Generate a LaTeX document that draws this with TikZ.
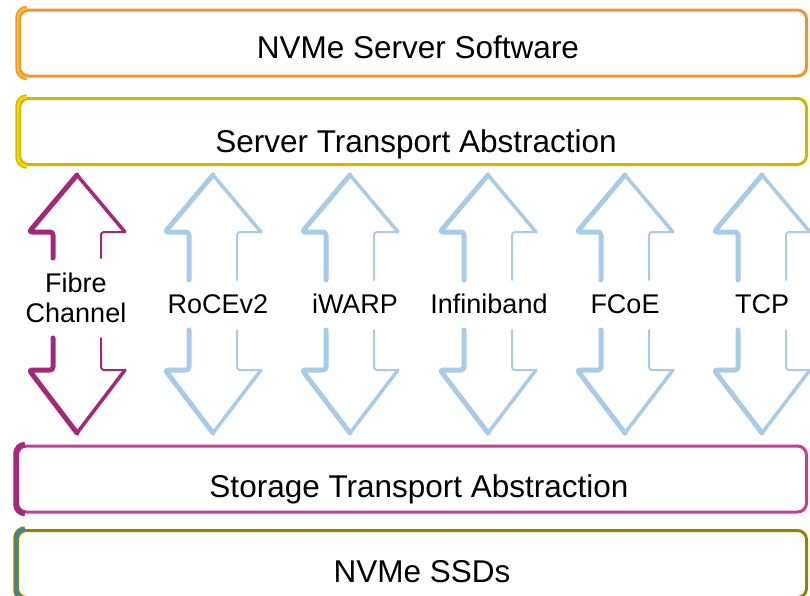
\documentclass[tikz,border=0pt]{standalone}
\usepackage{fontspec}
\setmainfont{Liberation Sans}
\usepackage{tikz}

\definecolor{swcol}{HTML}{F0952E}
\definecolor{swlight}{HTML}{F9B935}
\definecolor{stacol}{HTML}{D2B600}
\definecolor{stalight}{HTML}{F4D800}
\definecolor{storcol}{HTML}{C23E99}
\definecolor{stordark}{HTML}{A4297B}
\definecolor{ssdcol}{HTML}{958200}
\definecolor{ssdblue}{HTML}{1E88CC}
\definecolor{fccol}{HTML}{A3287A}
\definecolor{linkcol}{HTML}{A8CBE8}

\newcommand\linkarrow[4]{%
  \draw[#4,line width=5pt] (#1-24,#2) -- (#1-24,232) -- (#1-48,232) -- (#1,175);
  \draw[#4,line width=3.5pt] (#1,175) -- (#1+48,232);
  \draw[#4,line width=2pt] (#1+48,232) -- (#1+24,232) -- (#1+24,#2);
  \draw[#4,line width=5pt] (#1-24,#3) -- (#1-24,370) -- (#1-48,370) -- (#1,433);
  \draw[#4,line width=3.5pt] (#1,433) -- (#1+48,370);
  \draw[#4,line width=2pt] (#1+48,370) -- (#1+24,370) -- (#1+24,#3);
}
\newcommand\leftedge[4]{%
  \draw[#2,line width=#3,rounded corners=9pt,xshift=#4,line cap=butt]
    ([xshift=9pt]#1.north west) -- (#1.north west) -- (#1.south west) -- ([xshift=9pt]#1.south west);
}

\begin{document}
\begin{tikzpicture}[x=1pt,y=-1pt,line join=round,line cap=round,
  layer/.style={draw=#1,line width=3pt,rounded corners=9pt,minimum width=787pt,minimum height=66pt,inner sep=0pt},
  layertext/.style={anchor=base,font=\fontsize{31.5}{36}\selectfont},
  linktext/.style={font=\fontsize{27}{30}\selectfont,align=center}]
  \useasboundingbox (0,0) rectangle (810,595);
  \clip (0,0) rectangle (810,595);

  \node[layer=swcol] (sw) at (413,43) {};
  \leftedge{sw}{swcol}{5.5pt}{1pt}
  \leftedge{sw}{swlight}{2.5pt}{2pt}
  \node[layertext] (swt) at (418,58) {NVMe Server Software};

  \node[layer=stacol] (srvta) at (413,131.5) {};
  \leftedge{srvta}{stacol}{5.5pt}{1pt}
  \leftedge{srvta}{stalight}{2.5pt}{2pt}
  \node[layertext] (srvtat) at (416,152) {Server Transport Abstraction};

  \node[layer=storcol,minimum width=789pt] (stora) at (412,479) {};
  \leftedge{stora}{stordark}{5.5pt}{1pt}
  \node[layertext] (storat) at (419,497) {Storage Transport Abstraction};

  \node[layer=ssdcol,minimum width=789pt,minimum height=67pt] (ssd) at (412,564) {};
  \leftedge{ssd}{ssdcol}{5.5pt}{0pt}
  \leftedge{ssd}{ssdblue}{2.5pt}{2pt}
  \node[layertext] (ssdt) at (422,582) {NVMe SSDs};

  \begin{scope}[rounded corners=3pt]
    \linkarrow{77}{258}{338}{fccol}
    \foreach \x in {213,350,488,625,762}{
      \linkarrow{\x}{280}{330}{linkcol}
    }
  \end{scope}

  \node[linktext] (fc) at (76,298) {Fibre\\Channel};
  \foreach \x/\nm/\txt in {218/roce/RoCEv2,355/iwarp/iWARP,489/ib/Infiniband,625/fcoe/FCoE,762/tcp/TCP}
    \node[linktext] (\nm) at (\x,304) {\txt};
\end{tikzpicture}
\end{document}
